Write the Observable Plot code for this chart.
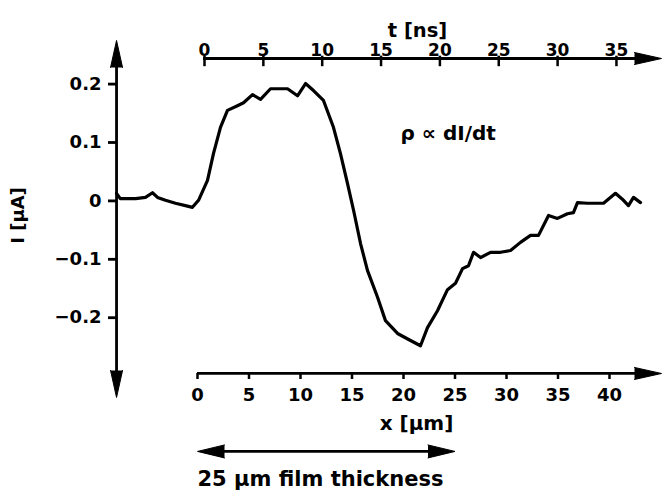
<!DOCTYPE html>
<html><head><meta charset="utf-8">
<script src="https://cdn.jsdelivr.net/npm/d3@7"></script>
<script src="https://cdn.jsdelivr.net/npm/@observablehq/plot@0.6"></script>
<style>body{margin:0;background:#fff}</style>
</head><body><div id="chart"></div>
<script>
// Curve: position x [µm] and current I [µA]
const xUm = [-7.86, -7.5, -6.0, -5.05, -4.37, -3.88, -3.11, -2.14, -1.17, -0.49, 0.10, 0.97, 1.55, 2.23, 2.91, 3.88, 4.47, 5.34, 6.12, 7.09, 7.77, 8.74, 9.71, 10.49, 11.26, 12.23, 13.20, 13.88, 14.56, 15.15, 15.83, 16.50, 17.48, 18.25, 19.42, 20.68, 21.65, 22.33, 23.30, 24.27, 25.05, 25.73, 26.31, 26.80, 27.48, 28.45, 29.42, 30.39, 31.36, 32.33, 33.11, 34.08, 34.95, 35.92, 36.50, 36.89, 37.86, 39.42, 40.58, 41.36, 41.84, 42.33, 43.01];
const currentUA = [0.013, 0.004, 0.004, 0.006, 0.014, 0.006, 0.001, -0.004, -0.008, -0.011, 0.001, 0.035, 0.081, 0.126, 0.155, 0.163, 0.168, 0.182, 0.174, 0.192, 0.192, 0.192, 0.180, 0.201, 0.189, 0.172, 0.126, 0.081, 0.030, -0.016, -0.073, -0.119, -0.165, -0.205, -0.227, -0.239, -0.248, -0.217, -0.188, -0.152, -0.141, -0.116, -0.111, -0.088, -0.097, -0.088, -0.088, -0.085, -0.071, -0.059, -0.059, -0.025, -0.030, -0.022, -0.020, -0.003, -0.004, -0.004, 0.013, 0.001, -0.008, 0.006, -0.003];

// Tick values
const xTicks = [0, 5, 10, 15, 20, 25, 30, 35, 40];
const yTicks = [-0.2, -0.1, 0, 0.1, 0.2];
const tTicks = [0, 5, 10, 15, 20, 25, 30, 35];

// relation between time axis (ns) and position axis (µm) on the drawing
const tOffsetUm = 0.68, umPerNs = 1.1427;
const tToX = t => tOffsetUm + umPerNs * t;

// axis extents (data units)
const yAxisX = -7.86, xEnd = 45.05, yTop = 0.2747, yBottom = -0.3366;
const xAxisY = -0.2955, tAxisY = 0.2438, tTickLen = 0.014;
const filmY = -0.429, filmStart = 0, filmEnd = 25;

const data = xUm.map((x, i) => ({x, I: currentUA[i]}));
const axisHeads = [
  {x: yAxisX, y: yTop, rotate: 0},
  {x: yAxisX, y: yBottom, rotate: 180},
  {x: xEnd, y: xAxisY, rotate: 90},
  {x: xEnd, y: tAxisY, rotate: 90}
];
const filmHeads = [
  {x: filmStart, y: filmY, rotate: 270},
  {x: filmEnd, y: filmY, rotate: 90}
];
const labels = [
  {x: tToX(18.1), y: 0.2918, text: "t [ns]", size: 19.5, anchor: "middle"},
  {x: 21.26, y: -0.381, text: "x [µm]", size: 20, anchor: "middle"},
  {x: 19.7, y: 0.1154, text: "ρ ∝ dI/dt", size: 20, anchor: "start"},
  {x: filmStart, y: -0.477, text: "25 µm film thickness", size: 21, anchor: "start"}
];
const fmtI = d => d === 0 ? "0" : (d < 0 ? "−" : "") + Math.abs(d).toFixed(1);
const font = "DejaVu Sans, Verdana, sans-serif";

const plot = Plot.plot({
  width: 662, height: 491,
  marginLeft: 116, marginRight: 1, marginTop: 58, marginBottom: 118,
  x: {domain: [0, 40], range: [197, 609], axis: null},
  y: {domain: [-0.2, 0.2], range: [317.2, 83.6], axis: null},
  style: {fontFamily: font, fontWeight: "bold", background: "white", color: "black", overflow: "visible"},
  marks: [
    Plot.ruleX([yAxisX], {y1: yBottom + 0.03, y2: yTop - 0.03, strokeWidth: 2.8}),
    Plot.ruleY([xAxisY], {x1: 0, x2: xEnd - 1, strokeWidth: 2.8}),
    Plot.ruleY([tAxisY], {x1: tToX(0) - 0.1, x2: xEnd - 1, strokeWidth: 2.8}),
    Plot.ruleY([filmY], {x1: filmStart + 1, x2: filmEnd - 1, strokeWidth: 2.8}),
    Plot.vector(axisHeads, {x: "x", y: "y", rotate: "rotate", length: 27, r: 6, shape: "spike", anchor: "end", fill: "black", stroke: "black", strokeWidth: 1}),
    Plot.vector(filmHeads, {x: "x", y: "y", rotate: "rotate", length: 27, r: 6.5, shape: "spike", anchor: "end", fill: "black", stroke: "black", strokeWidth: 1}),
    Plot.axisY({anchor: "left", ticks: yTicks, tickFormat: fmtI, tickSize: 8, tickPadding: 7, fontSize: 18, strokeWidth: 2.8, label: null}),
    Plot.axisX({anchor: "bottom", ticks: xTicks, tickSize: 6, tickPadding: 9, fontSize: 18, strokeWidth: 2.5, label: null}),
    Plot.axisX({anchor: "top", ticks: tTicks.map(tToX), tickFormat: x => String(Math.round((x - tOffsetUm) / umPerNs)), tickSize: 0, tickPadding: 3, fontSize: 17, label: null}),
    Plot.ruleX(tTicks, {x: tToX, y1: tAxisY + 0.004, y2: tAxisY - tTickLen, strokeWidth: 2.5}),
    Plot.line(data, {x: "x", y: "I", stroke: "black", strokeWidth: 3.2, strokeLinejoin: "round", strokeLinecap: "round"}),
    ...labels.map(l => Plot.text([l], {x: "x", y: "y", text: "text", fontSize: l.size, textAnchor: l.anchor, fill: "black"})),
    Plot.text([{x: -17.4, y: -0.025, text: "I [µA]"}], {x: "x", y: "y", text: "text", rotate: -90, fontSize: 18, fill: "black"})
  ]
});
document.getElementById("chart").appendChild(plot);
</script>
</body></html>
